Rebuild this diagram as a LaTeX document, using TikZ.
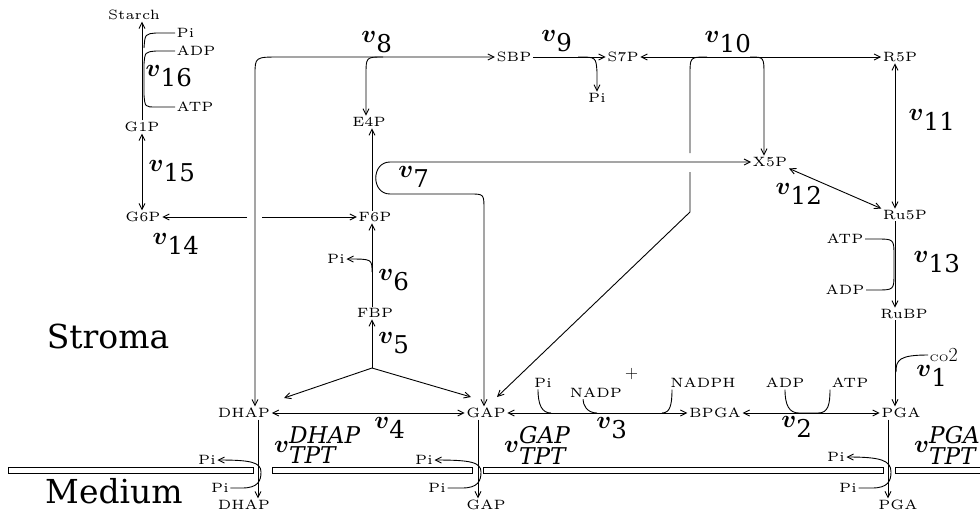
\documentclass[tikz,border=0pt]{standalone}
\usepackage{fontspec}
\usepackage{amsmath}
\usepackage{graphicx}
\newfontfamily\lblfont{DejaVu Serif}
\newfontfamily\vfont{DejaVu Serif}
\usetikzlibrary{arrows.meta}
\newcommand\mt[1]{\scalebox{2.7}{\fontsize{5}{6}\selectfont #1}}
\newcommand\rv[1]{$\text{\boldmath$v$}_{\text{\vfont #1}}$}
\newcommand\rvt[1]{$\text{\boldmath$v$}^{\text{\vfont\itshape #1}}_{\text{\vfont\itshape TPT}}$}
\begin{document}
\begin{tikzpicture}[x=1pt,y=-1pt,
  every node/.style={inner sep=1.5pt},
  vlab/.style={font=\fontsize{35}{35}\selectfont, inner sep=0pt},
  vlabt/.style={font=\fontsize{33}{33}\selectfont, inner sep=0pt, anchor=west},
  big/.style={font=\lblfont\fontsize{33}{33}\selectfont, inner sep=0pt},
  ln/.style={line width=0.9pt},
  mem/.style={line width=0.9pt, fill=white},
  >={Straight Barb[length=6pt,width=6pt]},
]
\useasboundingbox (0,0) rectangle (980,515);
% columns
\coordinate (colR) at (895,0);
\coordinate (colD) at (258,0);
\coordinate (colG) at (478,0);
\coordinate (colP) at (888,0);
% metabolites
\node (Starch) at (134,15) {\mt{Starch}};
\node (G1P) at (142,127) {\mt{G1P}};
\node (G6P) at (143,217) {\mt{G6P}};
\node (F6P) at (375,217) {\mt{F6P}};
\node (E4P) at (369,122) {\mt{E4P}};
\node (FBP) at (375,313) {\mt{FBP}};
\node (SBP) at (514,57) {\mt{SBP}};
\node (S7P) at (623,57) {\mt{S7P}};
\node (R5P) at (900,57) {\mt{R5P}};
\node (X5P) at (770,162) {\mt{X5P}};
\node (Ru5P) at (905,215) {\mt{Ru5P}};
\node (RuBP) at (904,314) {\mt{RuBP}};
\node (PGA) at (901,413) {\mt{PGA}};
\node (BPGA) at (715,413) {\mt{BPGA}};
\node (GAP) at (486,413) {\mt{GAP}};
\node (DHAP) at (244,413) {\mt{DHAP}};
\node (DHAPm) at (244,505) {\mt{DHAP}};
\node (GAPm) at (486,505) {\mt{GAP}};
\node (PGAm) at (898,505) {\mt{PGA}};
% cofactors
\node[anchor=west] (Pi16) at (175,33) {\mt{Pi}};
\node[anchor=west] (ADP16) at (175,51) {\mt{ADP}};
\node[anchor=west] (ATP16) at (175,107) {\mt{ATP}};
\node (Pi6) at (336,259) {\mt{Pi}};
\node (Pi9) at (597,98) {\mt{Pi}};
\node (Pi3) at (543,383) {\mt{Pi}};
\node (NADP) at (596,383) {\mt{NADP}\rlap{\raisebox{19pt}{\fontsize{18}{18}\selectfont\,+}}};
\node (NADPH) at (703,383) {\mt{NADPH}};
\node (ADP2) at (785,383) {\mt{ADP}};
\node (ATP2) at (850,383) {\mt{ATP}};
\node (ATP13) at (845,239) {\mt{ATP}};
\node (ADP13) at (845,290) {\mt{ADP}};
\node[anchor=west] (CO2) at (928,355) {\scalebox{1.9}{\fontsize{5}{6}\selectfont CO}{\fontsize{20}{20}\selectfont 2}};
\node (PiD1) at (207,460) {\mt{Pi}};
\node (PiD2) at (220,488) {\mt{Pi}};
\node (PiG1) at (424,460) {\mt{Pi}};
\node (PiG2) at (437,488) {\mt{Pi}};
\node (PiP1) at (836,457) {\mt{Pi}};
\node (PiP2) at (848,488) {\mt{Pi}};
% rate labels
\node[vlab] (v16) at (169,76) {\rv{16}};
\node[vlab] (v15) at (172,171) {\rv{15}};
\node[vlab] (v14) at (176,244) {\rv{14}};
\node[vlab] (v8) at (377,42) {\rv{8}};
\node[vlab] (v9) at (557,41) {\rv{9}};
\node[vlab] (v10) at (728,42) {\rv{10}};
\node[vlab] (v7) at (414,177) {\rv{7}};
\node[vlab] (v6) at (394,280) {\rv{6}};
\node[vlab] (v5) at (394,343) {\rv{5}};
\node[vlab] (v11) at (932,120) {\rv{11}};
\node[vlab] (v12) at (799,194) {\rv{12}};
\node[vlab] (v13) at (937,262) {\rv{13}};
\node[vlab] (v1) at (932,376) {\rv{1}};
\node[vlab] (v2) at (797,427) {\rv{2}};
\node[vlab] (v3) at (612,428) {\rv{3}};
\node[vlab] (v4) at (390,428) {\rv{4}};
\node[vlabt] (vD) at (274,445) {\rvt{DHAP}};
\node[vlabt] (vG) at (504,445) {\rvt{GAP}};
\node[vlabt] (vP) at (914,445) {\rvt{PGA}};
\node[big] (stroma) at (108,336) {Stroma};
\node[big] (medium) at (114,491) {Medium};
% helper coordinates
\coordinate (c14a) at (247,217);
\coordinate (c14b) at (262,217);
\coordinate (j5) at (372,368);
\coordinate (d5) at (284,398);
\coordinate (g5) at (471,397);
\coordinate (g10) at (497,397);
% membrane
\draw[mem] (8,467) rectangle (253,473);
\draw[mem] (272,467) rectangle (472,473);
\draw[mem] (483,467) rectangle (883,473);
\draw[mem] (895,467) rectangle (990,473);
% v16
\draw[ln,->] (G1P.north) -- (G1P.north |- Starch.south);
\draw[ln] (ATP16.west) -- (156,107) .. controls (145,107) .. (144,95) -- (144,64) .. controls (145,52) .. (156,51) -- (ADP16.west);
\draw[ln] (Pi16.west) -- (156,33) .. controls (145,34) .. (144,48);
% v15
\draw[ln,<->] (G1P.south) -- (G6P.north -| G1P.south);
% v14
\draw[ln,->] (c14a) -- (G6P.east);
\draw[ln,->] (c14b) -- (F6P.west);
% v8
\draw[ln,<->] (DHAP.north -| colD) ++(-3,0) -- (255,75) .. controls (255,57) .. (280,57) -- (SBP.west);
\draw[ln,->] (383,57) .. controls (366,57) .. (366,75) -- ([xshift=-3pt]E4P.north);
% F6P -> E4P
\draw[ln,->] ([xshift=-3pt]F6P.north) -- ([xshift=3pt]E4P.south);
% v7
\draw[ln,<->] (X5P.west) -- (390,162) .. controls (371,162) and (371,194) .. (390,194) -- (470,194) .. controls (484,194) .. (484,210) -- ([xshift=-2pt]GAP.north);
% v6
\draw[ln,->] ([xshift=-3pt]FBP.north) -- ([xshift=-3pt]F6P.south);
\draw[ln,->] (372,272) .. controls (372,259) .. (Pi6.east);
% v5
\draw[ln,->] (j5) -- ([xshift=-3pt]FBP.south);
\draw[ln,->] (j5) -- (d5);
\draw[ln,->] (j5) -- (g5);
% v4, v3, v2
\draw[ln,<->] (DHAP.east) -- (GAP.west);
\draw[ln,<->] (GAP.east) -- (BPGA.west);
\draw[ln,<->] (BPGA.east) -- (PGA.west);
\draw[ln] ([xshift=-5pt]Pi3.south) .. controls (538,405) and (542,413) .. (551,413);
\draw[ln] ([xshift=-13pt]NADP.south) .. controls (583,405) and (587,413) .. (597,413);
\draw[ln] ([xshift=-31pt]NADPH.south) .. controls (672,405) and (670,413) .. (662,413);
\draw[ln] (ADP2.south) .. controls (785,405) and (789,413) .. (799,413) -- (818,413) .. controls (828,413) and (830,405) .. ([xshift=-20pt]ATP2.south);
% v1
\draw[ln,->] (RuBP.south -| colR) -- (PGA.north -| colR);
\draw[ln] (CO2.west) .. controls (899,355) and (896,360) .. (896,372);
% v13
\draw[ln,->] (Ru5P.south -| colR) -- (RuBP.north -| colR);
\draw[ln] (ATP13.east) -- (876,239) .. controls (894,239) .. (894,256) -- (894,273) .. controls (894,290) .. (876,290) -- (ADP13.east);
% v11, v12
\draw[ln,<->] (R5P.south -| colR) -- (Ru5P.north -| colR);
\draw[ln,<->] (X5P.south east) -- (Ru5P.north west);
% v10
\draw[ln,<->] (S7P.east) -- (R5P.west);
\draw[ln] (707,57) .. controls (690,57) .. (690,75) -- (690,153);
\draw[ln,->] (690,172) -- (690,212) -- (g10);
\draw[ln,->] (750,57) .. controls (764,57) .. (764,75) -- ([xshift=-6pt]X5P.north);
% v9
\draw[ln,->] (SBP.east) -- (S7P.west);
\draw[ln,->] (578,57) .. controls (596,57) .. (597,72) -- (Pi9.north);
% transport
\draw[ln,->] (DHAP.south -| colD) -- (DHAPm.north -| colD);
\draw[ln,->] (PiD2.east) -- (242,488) .. controls (258,488) and (261,481) .. (261,472) .. controls (261,462) and (250,460) .. (PiD1.east);
\draw[ln,->] (GAP.south -| colG) -- (GAPm.north -| colG);
\draw[ln,->] (PiG2.east) -- (462,488) .. controls (478,488) and (481,481) .. (481,472) .. controls (481,462) and (470,460) .. (PiG1.east);
\draw[ln,->] (PGA.south -| colP) -- (PGAm.north -| colP);
\draw[ln,->] (PiP2.east) -- (872,488) .. controls (888,488) and (891,481) .. (891,472) .. controls (891,460) and (880,457) .. (PiP1.east);
\end{tikzpicture}
\end{document}
